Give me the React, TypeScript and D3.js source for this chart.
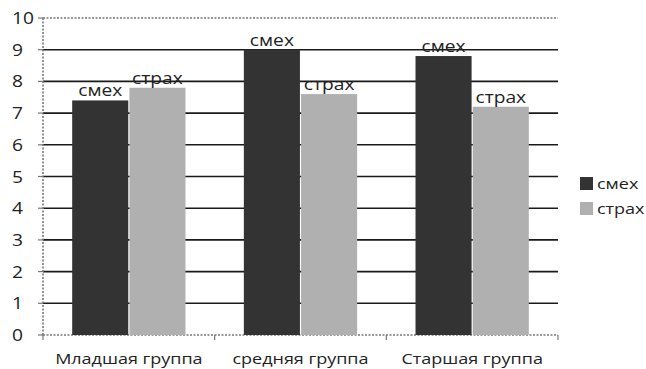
import React from "react";
import * as d3 from "d3";

const categories = ["Младшая группа", "средняя группа", "Старшая группа"];
const seriesNames = ["смех", "страх"];
const laughValues = [7.4, 9.0, 8.8];
const fearValues = [7.8, 7.6, 7.2];
const yTicks = [0, 1, 2, 3, 4, 5, 6, 7, 8, 9, 10];

const colors = ["#333333", "#b0b0b0"];

export default function App() {
  const W = 646, H = 369;
  const left = 43, right = 558, top = 18, bottom = 335;
  const x0 = d3.scaleBand().domain(categories).range([left, right]).paddingInner(0).paddingOuter(0);
  const x1 = d3.scaleBand().domain(seriesNames).range([0, x0.bandwidth()]).paddingInner(0.02).paddingOuter(0.51);
  const y = d3.scaleLinear().domain([0, 10]).range([bottom, top]);
  const series = [laughValues, fearValues];
  const font = "'Open Sans', sans-serif";
  const sx = 1.2;

  const stretchText = (tx: number, ty: number, txt: string, size: number, anchor: string, key: string) => (
    <text key={key} transform={`translate(${tx},${ty}) scale(${sx},1)`} textAnchor={anchor} fontSize={size} fontFamily={font} fill="#222">
      {txt}
    </text>
  );

  return (
    <svg width={W} height={H} style={{ position: "absolute", left: 0, top: 0 }}>
      <rect width={W} height={H} fill="#fff" />
      {yTicks.filter(t => t > 0 && t < 10).map(t => (
        <line key={"g" + t} x1={left} x2={right} y1={y(t)} y2={y(t)} stroke="#1a1a1a" strokeWidth={1.6} />
      ))}
      <line x1={left} x2={right} y1={y(10)} y2={y(10)} stroke="#777" strokeWidth={1.6} strokeDasharray="2,1.5" />
      <line x1={left} x2={right} y1={y(0)} y2={y(0)} stroke="#777" strokeWidth={1.6} strokeDasharray="2,1.5" />
      <line x1={left} x2={left} y1={y(0)} y2={y(10)} stroke="#777" strokeWidth={1.6} strokeDasharray="2,1.5" />
      {yTicks.map(t => (
        <line key={"yt" + t} x1={left - 5} x2={left} y1={y(t)} y2={y(t)} stroke="#777" strokeWidth={1.2} />
      ))}
      {d3.range(categories.length + 1).map(i => {
        const xx = left + i * x0.bandwidth();
        return <line key={"xt" + i} x1={xx} x2={xx} y1={bottom} y2={bottom + 5} stroke="#777" strokeWidth={1.2} />;
      })}
      {categories.map((c, ci) => (
        <g key={c}>
          {series.map((vals, si) => {
            const bx = (x0(c) as number) + (x1(seriesNames[si]) as number);
            return (
              <rect key={si} x={bx} y={y(vals[ci])} width={x1.bandwidth()} height={bottom - y(vals[ci])} fill={colors[si]} />
            );
          })}
        </g>
      ))}
      {categories.map((c, ci) =>
        series.map((vals, si) => {
          const bx = (x0(c) as number) + (x1(seriesNames[si]) as number) + x1.bandwidth() / 2;
          return stretchText(bx, y(vals[ci]) - 4, seriesNames[si], 16, "middle", `bl${ci}${si}`);
        })
      )}
      {yTicks.map(t => stretchText(12, y(t) + 6, String(t), 16, "start", "yl" + t))}
      {categories.map(c => stretchText((x0(c) as number) + x0.bandwidth() / 2, 364, c, 15, "middle", "cl" + c))}
      {seriesNames.map((s, i) => (
        <g key={"lg" + s}>
          <rect x={580} y={177 + i * 25} width={13} height={13} fill={colors[i]} />
          {stretchText(597, 189 + i * 25, s, 15, "start", "lt" + s)}
        </g>
      ))}
    </svg>
  );
}
